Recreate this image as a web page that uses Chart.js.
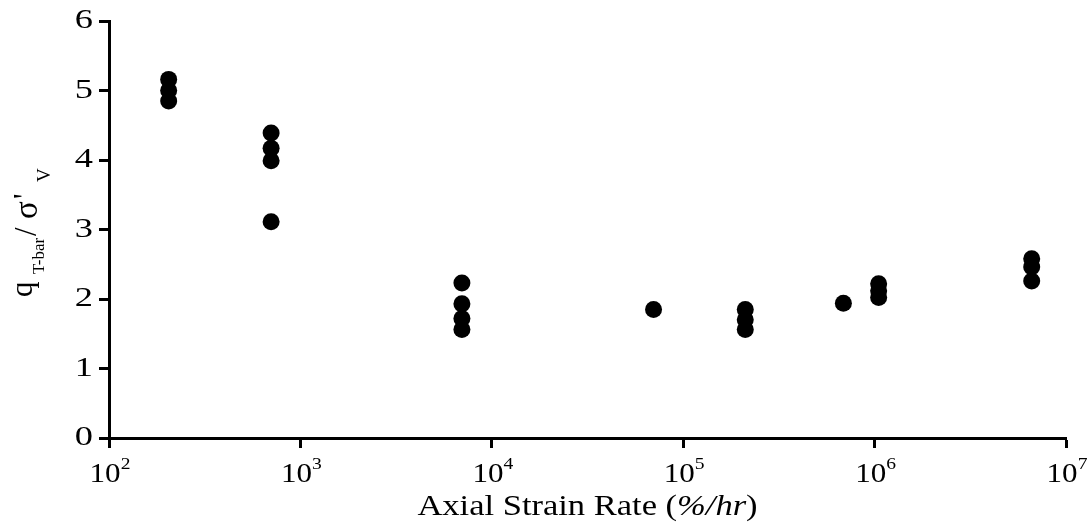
<!DOCTYPE html>
<html>
<head>
<meta charset="utf-8">
<script src="https://cdn.jsdelivr.net/npm/chart.js@4"></script>
<style>
  html, body { margin: 0; padding: 0; background: #ffffff; }
  #wrap { width: 1088px; height: 523px; position: relative; }
</style>
</head>
<body>
<div id="wrap"><canvas id="c" width="1088" height="523"></canvas></div>
<script>
// ---- data ----
const strainRate = [205, 205, 205,
                    703, 703, 703, 703,
                    6980, 6980, 6980, 6980,
                    70000,
                    211000, 211000, 211000,
                    687000,
                    1050000, 1050000, 1050000,
                    6620000, 6620000, 6620000];
const qRatio = [5.16, 5.00, 4.85,
                4.39, 4.17, 3.99, 3.11,
                2.23, 1.93, 1.72, 1.56,
                1.85,
                1.85, 1.70, 1.56,
                1.94,
                2.22, 2.12, 2.02,
                2.58, 2.46, 2.26];
const xTickExponents = [2, 3, 4, 5, 6, 7];
const yTicks = [0, 1, 2, 3, 4, 5, 6];
const xTitleRuns = [
  { text: 'Axial Strain Rate (', italic: false },
  { text: '%/hr', italic: true },
  { text: ')', italic: false }
];
// y title pieces: text, font size, offset along the text, baseline shift
const yTitleRuns = [
  { text: 'q',     size: 31, u: 0,   v: 32 },
  { text: 'T-bar', size: 17, u: 23,  v: 44 },
  { text: '/',     size: 31, u: 61,  v: 36 },
  { text: 'σ',     size: 33, u: 78,  v: 37 },
  { text: "'",     size: 31, u: 98,  v: 35 },
  { text: 'V',     size: 19, u: 115, v: 50 }
];

const points = strainRate.map((x, i) => ({ x: x, y: qRatio[i] }));
const SERIF = '"Liberation Serif", "Times New Roman", serif';

function drawRuns(ctx, runs, fontFor, dyFor, sx) {
  let total = 0;
  const widths = runs.map(r => { ctx.font = fontFor(r); const w = ctx.measureText(r.text).width; total += w; return w; });
  ctx.save();
  ctx.scale(sx, 1);
  let x = -total / 2;
  runs.forEach((r, i) => {
    ctx.font = fontFor(r);
    ctx.fillText(r.text, x, dyFor(r));
    x += widths[i];
  });
  ctx.restore();
}

const labelsPlugin = {
  id: 'labels',
  afterDraw(chart) {
    const ctx = chart.ctx;
    const xs = chart.scales.x;
    const ys = chart.scales.y;
    const area = chart.chartArea;
    ctx.save();
    ctx.fillStyle = '#000';
    ctx.textBaseline = 'alphabetic';
    ctx.textAlign = 'left';
    const SX = 1.15;
    // x tick labels 10^n with superscript exponent
    xTickExponents.forEach(e => {
      const px = xs.getPixelForValue(Math.pow(10, e));
      ctx.font = '27px ' + SERIF;
      const wb = ctx.measureText('10').width;
      ctx.font = '17px ' + SERIF;
      const we = ctx.measureText(String(e)).width;
      ctx.save();
      ctx.translate(px + 1, 0);
      ctx.scale(SX, 1);
      const left = -(wb + we) / 2;
      ctx.font = '27px ' + SERIF;
      ctx.fillText('10', left, 482);
      ctx.font = '17px ' + SERIF;
      ctx.fillText(String(e), left + wb, 469);
      ctx.restore();
    });
    // y tick labels
    ctx.textBaseline = 'middle';
    ctx.textAlign = 'right';
    ctx.font = '28px ' + SERIF;
    yTicks.forEach(v => {
      const py = ys.getPixelForValue(v);
      ctx.save();
      ctx.translate(area.left - 16, py);
      ctx.scale(1.3, 1);
      ctx.fillText(String(v), 0, 0);
      ctx.restore();
    });
    ctx.textBaseline = 'alphabetic';
    ctx.textAlign = 'left';
    // x axis title
    ctx.save();
    ctx.translate((area.left + area.right) / 2, 515);
    drawRuns(ctx, xTitleRuns,
      r => (r.italic ? 'italic ' : '') + '30px ' + SERIF,
      r => 0, 1.15);
    ctx.restore();
    // y axis title (rotated, reading upward)
    ctx.save();
    ctx.translate(0, 297);
    ctx.rotate(-Math.PI / 2);
    yTitleRuns.forEach(r => {
      ctx.font = r.size + 'px ' + SERIF;
      ctx.fillText(r.text, r.u, r.v);
    });
    ctx.restore();
    ctx.restore();
  }
};

new Chart(document.getElementById('c'), {
  type: 'scatter',
  data: {
    datasets: [{
      data: points,
      backgroundColor: '#000',
      borderColor: '#000',
      borderWidth: 0,
      pointRadius: 8.5,
      pointHoverRadius: 8.5
    }]
  },
  options: {
    responsive: false,
    animation: false,
    events: [],
    layout: { padding: { top: 21, right: 22, left: 0, bottom: 0 } },
    plugins: { legend: { display: false }, tooltip: { enabled: false } },
    scales: {
      x: {
        type: 'logarithmic',
        min: 100,
        max: 10000000,
        afterBuildTicks: s => { s.ticks = xTickExponents.map(e => ({ value: Math.pow(10, e) })); },
        afterFit: s => { s.height = 85; },
        border: { display: true, color: '#000', width: 3 },
        grid: { drawOnChartArea: false, drawTicks: true, tickLength: 10, tickColor: '#000', tickWidth: 3 },
        ticks: { display: false }
      },
      y: {
        type: 'linear',
        min: 0,
        max: 6,
        afterBuildTicks: s => { s.ticks = yTicks.map(v => ({ value: v })); },
        afterFit: s => { s.width = 109; },
        border: { display: true, color: '#000', width: 3 },
        grid: { drawOnChartArea: false, drawTicks: true, tickLength: 10, tickColor: '#000', tickWidth: 3 },
        ticks: { display: false }
      }
    }
  },
  plugins: [labelsPlugin]
});
</script>
</body>
</html>
